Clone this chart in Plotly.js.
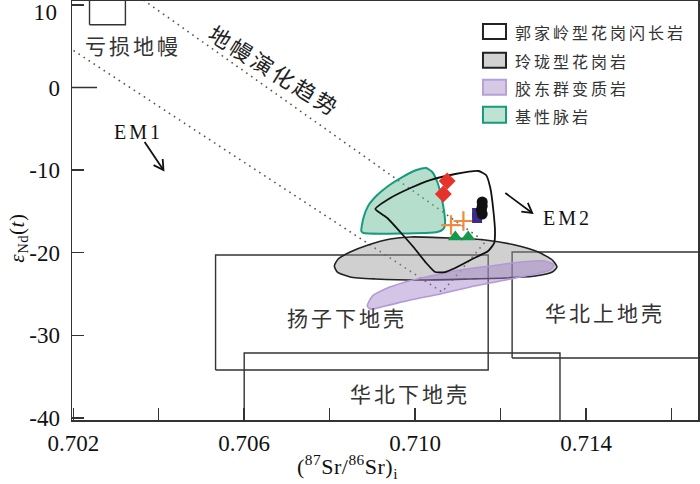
<!DOCTYPE html>
<html><head><meta charset="utf-8">
<script src="https://cdn.plot.ly/plotly-3.0.1.min.js"></script>
<style>
html,body{margin:0;padding:0;background:#fff;}
text.annotation-text{letter-spacing:3px;}
g.annotation[data-index="0"] text.annotation-text,
g.annotation[data-index="1"] text.annotation-text,
g.annotation[data-index="2"] text.annotation-text{letter-spacing:0.5px;}
</style></head>
<body><div id="chart" style="width:700px;height:484px;"></div>
<script>
// ---------- data ----------
const xRange = [0.70197, 0.71662];
const yRange = [-40.25, 10.47];
const xTickVals = [0.702, 0.704, 0.706, 0.708, 0.710, 0.712, 0.714, 0.716];
const xTickText = ['0.702', '', '0.706', '', '0.710', '', '0.714', ''];
const yTickVals = [10, 0, -10, -20, -30, -40];
const yTickText = ['', '0', '-10', '-20', '-30', '-40'];
const yTopLabel = '10';

// mantle evolution trend band (dotted)
const trendX = [0.70364, 0.71164, 0.71063, 0.70197];
const trendY = [10.6, -18.70, -24.76, 4.6];

// reservoir boxes
const dmBoxX = [0.70238, 0.70322];   const dmBoxY = [7.6, 11];
const yzLowerX = [0.70533, 0.71171]; const yzLowerY = [-34.2, -20.28];
const ncUpperX = [0.71227, 0.7175];  const ncUpperY = [-32.75, -19.92];
const ncLowerX = [0.70600, 0.71339]; const ncLowerY = [-41, -32.14];

// 玲珑型花岗岩 field
const llX = [0.70811,0.70820,0.70848,0.70890,0.70942,0.70989,0.71082,0.71164,0.71234,0.71288,0.71321,0.71332,0.71321,0.71281,0.71211,0.71129,0.71012,0.70907,0.70848,0.70818];
const llY = [-21.61,-20.76,-19.92,-19.07,-18.34,-18.09,-18.22,-18.46,-19.07,-19.92,-20.88,-21.73,-22.34,-22.82,-23.06,-23.18,-23.31,-23.18,-22.94,-22.34];
// 胶东群变质岩 field
const jdX = [0.70888,0.70900,0.70930,0.70977,0.71035,0.71106,0.71176,0.71246,0.71304,0.71325,0.71316,0.71269,0.71199,0.71129,0.71059,0.70989,0.70930,0.70895];
const jdY = [-26.45,-25.24,-24.39,-23.55,-22.82,-22.09,-21.61,-21.13,-21.00,-21.49,-22.09,-22.70,-23.43,-24.15,-25.00,-25.73,-26.45,-26.82];
// 基性脉岩 field
const mdX = [0.70874,0.70879,0.70890,0.70909,0.70937,0.70970,0.71003,0.71026,0.71040,0.71052,0.71061,0.71068,0.71070,0.71066,0.71052,0.70879];
const mdY = [-17.37,-15.80,-14.35,-13.14,-11.92,-10.84,-9.99,-9.75,-10.23,-11.44,-13.14,-15.07,-16.53,-17.13,-17.49,-17.62];
// 郭家岭型花岗闪长岩 field
const gjlX = [0.70907,0.70942,0.70989,0.71035,0.71094,0.71148,0.71166,0.71176,0.71183,0.71187,0.71185,0.71171,0.71134,0.71094,0.71070,0.71047,0.71024,0.70996,0.70965,0.70935];
const gjlY = [-14.71,-13.38,-12.17,-11.20,-10.47,-10.11,-10.59,-12.17,-14.83,-17.49,-18.83,-19.79,-20.76,-21.85,-22.34,-22.34,-21.13,-19.31,-17.49,-15.80];

// sample points
const redX = [0.71075, 0.71066];   const redY = [-11.32, -12.89];
const crossX = [0.71084, 0.71113]; const crossY = [-16.65, -16.16];
const triX = [0.71094, 0.71124];   const triY = [-18.10, -18.10];
const sqX = [0.71145, 0.71145];    const sqY = [-15.19, -15.80];
const blkX = [0.71157, 0.71157, 0.71155, 0.71157]; const blkY = [-13.86, -14.35, -14.83, -15.32];

// labels
const legendNames = ['郭家岭型花岗闪长岩', '玲珑型花岗岩', '胶东群变质岩', '基性脉岩'];

// ---------- helpers ----------
const plotW = 626, plotH = 419;
const kx = plotW / (xRange[1] - xRange[0]);
const ky = plotH / (yRange[1] - yRange[0]);
function rectXY(xs, ys) {
  return {x: [xs[0], xs[1], xs[1], xs[0], xs[0]], y: [ys[0], ys[0], ys[1], ys[1], ys[0]]};
}
function close(a) { return a.concat([a[0]]); }
function arrowShapes(x0, y0, x1, y1, col) {
  const dx = (x1 - x0) * kx, dy = -(y1 - y0) * ky;
  const n = Math.hypot(dx, dy), ux = -dx / n, uy = -dy / n;
  const L = 11, a = 30 * Math.PI / 180;
  const arm = s => {
    const rx = ux * Math.cos(s * a) - uy * Math.sin(s * a);
    const ry = ux * Math.sin(s * a) + uy * Math.cos(s * a);
    return [x1 + rx * L / kx, y1 - ry * L / ky];
  };
  const p1 = arm(1), p2 = arm(-1);
  return [
    {type: 'line', x0: x0, y0: y0, x1: x1, y1: y1, line: {color: col, width: 1.8}},
    {type: 'path', path: `M${p1[0]},${p1[1]} L${x1},${y1} L${p2[0]},${p2[1]}`, line: {color: col, width: 1.8}}
  ];
}

const boxLine = {color: '#333', width: 1.4};
const traces = [];
traces.push({x: trendX, y: trendY, mode: 'lines', line: {color: '#555', width: 1.6, dash: '1.6px,4.4px'}});
[[dmBoxX, dmBoxY], [yzLowerX, yzLowerY], [ncUpperX, ncUpperY], [ncLowerX, ncLowerY]].forEach(b => {
  const r = rectXY(b[0], b[1]);
  traces.push({x: r.x, y: r.y, mode: 'lines', line: boxLine});
});
traces.push({x: close(llX), y: close(llY), mode: 'lines', fill: 'toself', fillcolor: 'rgba(150,150,150,0.45)', line: {color: '#222', width: 1.6, shape: 'spline', smoothing: 0.6}});
traces.push({x: close(jdX), y: close(jdY), mode: 'lines', fill: 'toself', fillcolor: 'rgba(160,125,200,0.45)', line: {color: '#b39ad6', width: 1.6, shape: 'spline', smoothing: 0.6}});
traces.push({x: close(mdX), y: close(mdY), mode: 'lines', fill: 'toself', fillcolor: 'rgba(110,190,155,0.5)', line: {color: '#169b7c', width: 2, shape: 'spline', smoothing: 0.5}});
traces.push({x: close(gjlX), y: close(gjlY), mode: 'lines', line: {color: '#111', width: 1.8, shape: 'spline', smoothing: 0.5}});
traces.push({x: redX, y: redY, mode: 'markers', marker: {symbol: 'diamond', size: 13, color: '#e5322b'}});
traces.push({x: crossX, y: crossY, mode: 'markers', marker: {symbol: 'cross-thin', size: 14, line: {color: '#f08a3c', width: 2.2}}});
traces.push({x: triX, y: triY, mode: 'markers', marker: {symbol: 'triangle-up', size: 13, color: '#14994a'}});
traces.push({x: sqX, y: sqY, mode: 'markers', marker: {symbol: 'square', size: 10, color: '#3d2a88'}});
traces.push({x: blkX, y: blkY, mode: 'markers', marker: {symbol: 'circle', size: 11, color: '#111'}});
traces.forEach(t => { t.showlegend = false; t.hoverinfo = 'skip'; });

// ---------- annotations ----------
const serif = 'Liberation Serif, Times New Roman, serif';
const cjk = 'Noto Sans CJK SC, sans-serif';
const txtCol = '#333';
const ann = [
  {xref: 'paper', yref: 'paper', x: 0.4393, y: -0.11, showarrow: false, xanchor: 'center', yanchor: 'middle',
   text: '(<sup>87</sup>Sr/<sup>86</sup>Sr)<sub>i</sub>', font: {family: serif, size: 22, color: '#111'}},
  {xref: 'paper', yref: 'paper', x: -0.0863, y: 0.434, showarrow: false, textangle: -90, xanchor: 'center', yanchor: 'middle',
   text: '<i>ε</i><sub>Nd</sub>(<i>t</i>)', font: {family: serif, size: 21, color: '#111'}},
  {xref: 'paper', yref: 'paper', x: -0.0165, y: 0.972, showarrow: false, xanchor: 'right', yanchor: 'middle',
   text: yTopLabel, font: {family: serif, size: 23, color: '#111'}},
  {x: 0.70339, y: 5.15, text: '亏损地幔', showarrow: false, font: {family: cjk, size: 21, color: txtCol}},
  {x: 0.70673, y: 2.12, text: '地幔演化趋势', showarrow: false, textangle: 32, font: {family: cjk, size: 22, color: '#222'}},
  {x: 0.70353, y: -5.39, text: 'EM1', showarrow: false, font: {family: serif, size: 20, color: '#111'}},
  {x: 0.71356, y: -15.8, text: 'EM2', showarrow: false, font: {family: serif, size: 20, color: '#111'}},
  {x: 0.70841, y: -27.78, text: '扬子下地壳', showarrow: false, font: {family: cjk, size: 21, color: txtCol}},
  {x: 0.71445, y: -27.18, text: '华北上地壳', showarrow: false, font: {family: cjk, size: 21, color: txtCol}},
  {x: 0.70989, y: -36.99, text: '华北下地壳', showarrow: false, font: {family: cjk, size: 21, color: txtCol}}
];
const legY = [0.9262, 0.8571, 0.7929, 0.7262];
legendNames.forEach((n, i) => {
  ann.push({xref: 'paper', yref: 'paper', x: 0.7045, y: legY[i], xanchor: 'left', yanchor: 'middle', align: 'left',
    text: n, showarrow: false, font: {family: cjk, size: 16, color: txtCol}});
});

// ---------- shapes ----------
const legBoxes = [
  {fill: '#ffffff', line: '#222'},
  {fill: '#d2d2d2', line: '#222'},
  {fill: '#d6c9e6', line: '#b7a0d8'},
  {fill: '#bfe3d2', line: '#169b7c'}
];
const legBoxY = [[0.9095, 0.9452], [0.8405, 0.8762], [0.7762, 0.8119], [0.7095, 0.7476]];
const shapes = [];
legBoxes.forEach((b, i) => {
  shapes.push({type: 'rect', xref: 'paper', yref: 'paper', x0: 0.6565, x1: 0.6933, y0: legBoxY[i][0], y1: legBoxY[i][1],
    fillcolor: b.fill, line: {color: b.line, width: 2}});
});
// long tick at 0
shapes.push({type: 'line', xref: 'paper', yref: 'y', x0: 0, x1: 0.04, y0: 0, y1: 0, line: {color: '#333', width: 1.5}});
arrowShapes(0.70367, -6.6, 0.70411, -9.99, '#111').forEach(s => shapes.push(s));
arrowShapes(0.71211, -12.77, 0.71274, -15.19, '#111').forEach(s => shapes.push(s));

const layout = {
  width: 700, height: 484,
  margin: {l: 72, r: 2, t: 1, b: 64},
  paper_bgcolor: '#fff', plot_bgcolor: '#fff',
  showlegend: false,
  xaxis: {range: xRange, showgrid: false, zeroline: false, showline: true, mirror: true,
    linecolor: '#333', linewidth: 1.5, ticks: 'inside', ticklen: 12, tickwidth: 1.5, tickcolor: '#333',
    tickvals: xTickVals, ticktext: xTickText, ticklabelstandoff: 2, ticklabeloverflow: 'allow',
    tickfont: {family: serif, size: 23, color: '#111'}},
  yaxis: {range: yRange, showgrid: false, zeroline: false, showline: true, mirror: true,
    linecolor: '#333', linewidth: 1.5, ticks: 'inside', ticklen: 12, tickwidth: 1.5, tickcolor: '#333',
    tickvals: yTickVals, ticktext: yTickText, ticklabelstandoff: 6, ticklabeloverflow: 'allow',
    tickfont: {family: serif, size: 23, color: '#111'}},
  annotations: ann,
  shapes: shapes
};
Plotly.newPlot('chart', traces, layout, {staticPlot: true, displayModeBar: false});
</script></body></html>
